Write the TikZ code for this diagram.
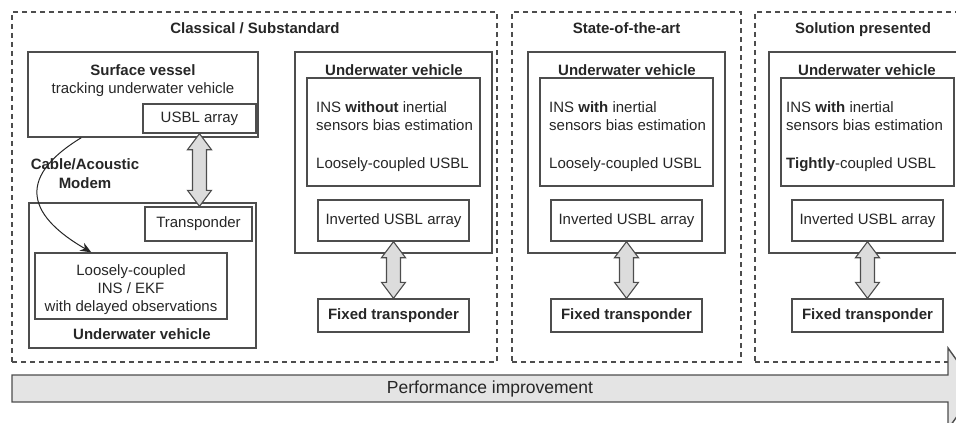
\documentclass[tikz,border=0pt]{standalone}
\usepackage{fontspec}
\setmainfont{Liberation Sans}
\usetikzlibrary{calc,arrows.meta}
\definecolor{edge}{HTML}{4D4D4D}
\definecolor{ink}{HTML}{262626}
\definecolor{arrowfill}{HTML}{DCDCDC}
\definecolor{perffill}{HTML}{E4E4E4}
\newcommand\vfat[2]{\draw[fat] let \p1=(#1.south), \p2=(#2.north) in
  (\x1,\y1) -- (\x1+12pt,\y1-16pt) -- (\x1+7pt,\y1-16pt) -- (\x1+7pt,\y2+16pt) --
  (\x1+12pt,\y2+16pt) -- (\x1,\y2) -- (\x1-12pt,\y2+16pt) -- (\x1-7pt,\y2+16pt) --
  (\x1-7pt,\y1-16pt) -- (\x1-12pt,\y1-16pt) -- cycle;}
\begin{document}
\begin{tikzpicture}[x=1pt,y=-1pt,
  every node/.style={font=\fontsize{15}{18}\selectfont, text=ink},
  sz/.style n args={2}{minimum width=#1pt, minimum height=#2pt},
  box/.style={draw=edge, line width=1.4pt, rectangle, inner sep=0pt},
  group/.style={draw=edge, line width=1.2pt, dash pattern=on 5pt off 4pt, rectangle, inner sep=0pt},
  lbl/.style={inner sep=0pt, anchor=base},
  lline/.style={inner sep=0pt, anchor=base west},
  fat/.style={draw=edge, line width=1.1pt, fill=arrowfill, line join=miter},
  perf/.style={draw=edge, line width=1.4pt, fill=perffill, line join=miter},
  link/.style={draw=ink, line width=1pt, -{Stealth[length=11pt,width=9pt]}}
]
\useasboundingbox (0,0) rectangle (956,423);
\clip (0,0) rectangle (956,423);

% dashed groups
\node[group, sz={485}{350}] (gL) at (254.5,187) {};
\node[group, sz={229}{350}] (gM) at (626.5,187) {};
\node[group, sz={229}{350}] (gR) at (869.5,187) {};
\node[lbl] (tL) at (255,33) {\textbf{Classical / Substandard}};
\node[lbl] (tM) at (626.5,33) {\textbf{State-of-the-art}};
\node[lbl] (tR) at (863,33) {\textbf{Solution presented}};

% classical: surface vessel
\node[box, sz={230}{85}] (sv) at (143,94.5) {};
\node[lbl] (svt) at (143,75) {\textbf{Surface vessel}};
\node[lbl] (svs) at (143,93) {tracking underwater vehicle};
\node[box, sz={113}{29}] (usbl) at (199.5,118.5) {USBL array};

% classical: underwater vehicle
\node[box, sz={227}{145}] (uvL) at (142.5,275.5) {};
\node[box, sz={107}{34}] (tr) at (198.5,224) {Transponder};
\node[box, sz={192}{66}] (lc) at (131,286) {};
\node[inner sep=0pt, align=center] (lct) at (131,290) {Loosely-coupled\\INS / EKF\\with delayed observations};
\node[lbl] (uvLt) at (142,339) {\textbf{Underwater vehicle}};

\node[lbl] (cab1) at (85,169) {\textbf{Cable/Acoustic}};
\node[lbl] (cab2) at (85,188) {\textbf{Modem}};
\draw[link] ($(sv.south west)+(54,0)$) .. controls (12,180) and (32,218) .. ($(lc.north west)+(57,0)$);

% section A
\node[box, sz={197}{201}] (uvA) at (393.5,152.5) {};
\node[lbl] (uvAt) at (394,75) {\textbf{Underwater vehicle}};
\node[box, sz={173}{108}] (inA) at (393.5,132) {};
\node[lline] (a1) at (316,112) {INS \textbf{without} inertial};
\node[lline] (a2) at (316,130) {sensors bias estimation};
\node[lline] (a3) at (316,168) {Loosely-coupled USBL};
\node[box, sz={151}{41}] (ivA) at (393.5,220.5) {Inverted USBL array};
\node[box, sz={151}{33}] (fxA) at (393.5,315.5) {\textbf{Fixed transponder}};

% section B
\node[box, sz={197}{201}] (uvB) at (626.5,152.5) {};
\node[lbl] (uvBt) at (627,75) {\textbf{Underwater vehicle}};
\node[box, sz={173}{108}] (inB) at (626.5,132) {};
\node[lline] (b1) at (549,112) {INS \textbf{with} inertial};
\node[lline] (b2) at (549,130) {sensors bias estimation};
\node[lline] (b3) at (549,168) {Loosely-coupled USBL};
\node[box, sz={151}{41}] (ivB) at (626.5,220.5) {Inverted USBL array};
\node[box, sz={151}{33}] (fxB) at (626.5,315.5) {\textbf{Fixed transponder}};

% section C
\node[box, sz={197}{201}] (uvC) at (867.5,152.5) {};
\node[lbl] (uvCt) at (867,75) {\textbf{Underwater vehicle}};
\node[box, sz={173}{108}] (inC) at (867.5,132) {};
\node[lline] (c1) at (786,112) {INS \textbf{with} inertial};
\node[lline] (c2) at (786,130) {sensors bias estimation};
\node[lline] (c3) at (786,168) {\textbf{Tightly}-coupled USBL};
\node[box, sz={151}{41}] (ivC) at (867.5,220.5) {Inverted USBL array};
\node[box, sz={151}{33}] (fxC) at (867.5,315.5) {\textbf{Fixed transponder}};

% double arrows
\vfat{usbl}{tr}
\vfat{ivA}{fxA}
\vfat{ivB}{fxB}
\vfat{ivC}{fxC}

% performance arrow
\draw[perf] (12,375) -- (948,375) -- (948,348) -- (977,388.5) -- (948,429) -- (948,402) -- (12,402) -- cycle;
\node[font=\fontsize{17.5}{20}\selectfont] (perft) at (490,389) {Performance improvement};
\end{tikzpicture}
\end{document}
